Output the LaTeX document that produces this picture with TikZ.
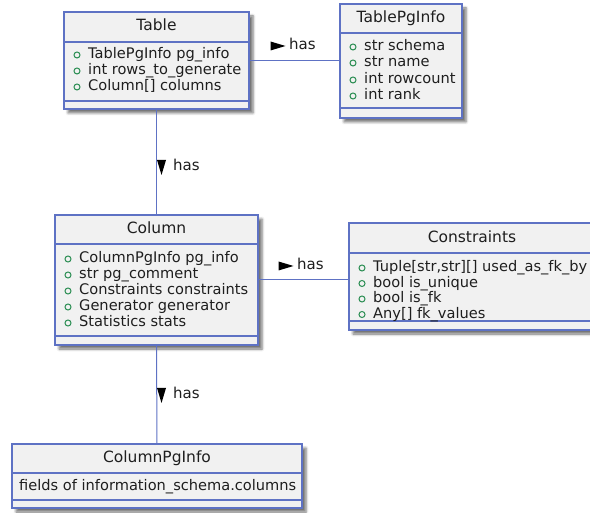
\documentclass[tikz,border=0pt]{standalone}
\usepackage{fontspec}
\setmainfont{DejaVu Sans}
\usetikzlibrary{calc,shadows.blur}

\definecolor{umlline}{RGB}{94,114,196}
\definecolor{umlfill}{RGB}{241,241,241}
\definecolor{fieldgreen}{RGB}{40,140,80}
\definecolor{inktext}{RGB}{30,30,30}

\tikzset{
  classbox/.style={draw=umlline, fill=umlfill, line width=1.3pt, inner sep=0pt,
    outer sep=0pt, anchor=north west,
    blur shadow={shadow xshift=4pt, shadow yshift=-4pt, shadow blur radius=2.5pt, shadow opacity=55}},
  divider/.style={draw=umlline, line width=1.3pt},
  classname/.style={font=\fontsize{15.5}{17}\selectfont, text=inktext, inner sep=0pt,
    text height=11pt, text depth=3pt},
  field/.style={font=\fontsize{14.6}{16}\selectfont, text=inktext, inner sep=0pt,
    anchor=west, text height=10.5pt, text depth=3pt},
  fieldmark/.style={draw=fieldgreen, line width=1pt},
  assoc/.style={draw=umlline, line width=1pt},
  roletext/.style={font=\fontsize{15}{17}\selectfont, text=inktext, inner sep=0pt,
    anchor=west, text height=10.5pt, text depth=3pt},
  navtip/.style={fill=black},
}

% public attribute: green circle followed by the attribute text
\newcommand\umlfield[4]{%
  \draw[fieldmark] (#2-11,#3) circle[radius=3pt];
  \node[field] (#1) at (#2,#3) {#4};}

% horizontal compartment separator at a given offset below the box top
\newcommand\umldivide[2]{%
  \draw[divider] ([yshift=-#2pt]#1.north west) -- ([yshift=-#2pt]#1.north east);}

\begin{document}
\begin{tikzpicture}[x=1pt,y=-1pt]
\useasboundingbox (0,0) rectangle (590,513);
\clip (0,0) rectangle (590,513);

% ---- Table ----
\node[classbox, minimum width=185pt, minimum height=97pt] (table) at (64,12) {};
\umldivide{table}{30}
\umldivide{table}{89}
\node[classname] (tableName) at (156.5,27) {Table};
\umlfield{tableA}{88}{55}{TablePgInfo pg\_info}
\umlfield{tableB}{88}{71}{int rows\_to\_generate}
\umlfield{tableC}{88}{87}{Column[] columns}

% ---- TablePgInfo ----
\node[classbox, minimum width=122pt, minimum height=114pt] (tpi) at (340,4) {};
\umldivide{tpi}{29}
\umldivide{tpi}{104}
\node[classname] (tpiName) at (401,18.5) {TablePgInfo};
\umlfield{tpiA}{364}{47}{str schema}
\umlfield{tpiB}{364}{63}{str name}
\umlfield{tpiC}{364}{80}{int rowcount}
\umlfield{tpiD}{364}{96}{int rank}

% ---- Column ----
\node[classbox, minimum width=203pt, minimum height=130pt] (col) at (55,215) {};
\umldivide{col}{29}
\umldivide{col}{121}
\node[classname] (colName) at (156.5,229.5) {Column};
\umlfield{colA}{79}{259}{ColumnPgInfo pg\_info}
\umlfield{colB}{79}{275}{str pg\_comment}
\umlfield{colC}{79}{291}{Constraints constraints}
\umlfield{colD}{79}{307}{Generator generator}
\umlfield{colE}{79}{323}{Statistics stats}

% ---- Constraints ----
\node[classbox, minimum width=246pt, minimum height=107pt] (cons) at (349,223) {};
\umldivide{cons}{30}
\umldivide{cons}{98}
\node[classname] (consName) at (472,238.5) {Constraints};
\umlfield{consA}{373}{268}{Tuple[str,str][] used\_as\_fk\_by}
\umlfield{consB}{373}{283.5}{bool is\_unique}
\umlfield{consC}{373}{299}{bool is\_fk}
\umlfield{consD}{373}{314.5}{Any[] fk\_values}

% ---- ColumnPgInfo ----
\node[classbox, minimum width=290pt, minimum height=64pt] (cpi) at (12,444) {};
\umldivide{cpi}{29}
\umldivide{cpi}{56}
\node[classname] (cpiName) at (157,458.5) {ColumnPgInfo};
\node[field] (cpiA) at (19,487) {fields of information\_schema.columns};

% ---- associations ----
\draw[assoc] (table.east |- tpi.west) -- (tpi.west);
\draw[assoc] (table.south) -- (col.north);
\draw[assoc] (col.east) -- (col.east -| cons.west);
\draw[assoc] (col.south) -- (cpi.north);

% ---- association names with reading direction ----
\node[roletext] (hasTpi) at (289,46) {has};
\fill[navtip] ($(hasTpi.west)+(-3.5,0)$) -- ++(-15,-4.5) -- ++(0,9) -- cycle;
\node[roletext] (hasCons) at (297,266) {has};
\fill[navtip] ($(hasCons.west)+(-3.5,0)$) -- ++(-15,-4.5) -- ++(0,9) -- cycle;
\node[roletext] (hasCol) at (173,167) {has};
\fill[navtip] ($(hasCol.west)+(-11.5,8)$) -- ++(-4.5,-15) -- ++(9,0) -- cycle;
\node[roletext] (hasCpi) at (173,395) {has};
\fill[navtip] ($(hasCpi.west)+(-11.5,8)$) -- ++(-4.5,-15) -- ++(9,0) -- cycle;
\end{tikzpicture}
\end{document}
